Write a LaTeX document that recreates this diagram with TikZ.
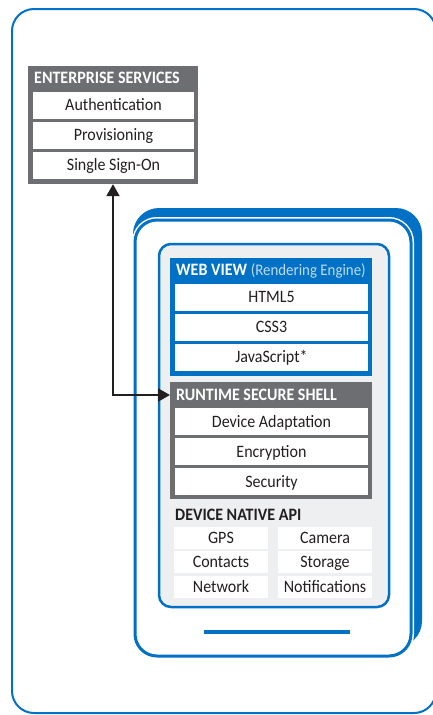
\documentclass[tikz,border=0pt]{standalone}
\usepackage{fontspec}
\setmainfont{Carlito}[FakeStretch=0.92]
\usetikzlibrary{arrows.meta}
\definecolor{intelblue}{RGB}{0,113,197}
\definecolor{shellgray}{RGB}{109,110,113}
\definecolor{screengray}{RGB}{238,239,241}
\definecolor{inkdark}{RGB}{35,31,32}
\definecolor{paleblue}{RGB}{192,219,242}

\begin{document}
\begin{tikzpicture}[x=1pt,y=-1pt,
    font=\fontsize{17.4}{20}\selectfont,
    txt/.style={inner sep=0pt, text height=11.2pt, text depth=0pt},
    item/.style={txt, fill=white, text=inkdark, minimum width=193pt, minimum height=27pt},
    cell/.style={txt, fill=white, text=inkdark, minimum width=94pt, minimum height=22pt},
    panel/.style={inner sep=0pt, minimum width=202pt, minimum height=118pt},
    head/.style={txt, anchor=west, inner xsep=6pt, text=white, font=\fontsize{17.4}{20}\selectfont\bfseries},
    link/.style={{Triangle[length=12pt,width=13pt]}-{Triangle[length=12pt,width=13pt]}, line width=2pt, draw=inkdark}]
  \useasboundingbox (0,0) rectangle (433,715);
  % outer frame
  \draw[intelblue, line width=2pt, rounded corners=22pt] (12,9) rectangle (436,713);

  % enterprise services
  \node[panel, fill=shellgray, minimum width=170pt] (es) at (113,125) {};
  \node[head] (eshead) at (28,78) {ENTERPRISE SERVICES};
  \node[item, minimum width=161pt] (auth) at (113.5,105) {Authentication};
  \node[item, minimum width=161pt] (prov) at (113.5,135) {Provisioning};
  \node[item, minimum width=161pt] (sso) at (113.5,165) {Single Sign-On};

  % device
  \fill[intelblue, rounded corners=26pt] (133,208) rectangle (422,647);
  \draw[white, line width=6pt, fill=white, rounded corners=22pt] (135,220) rectangle (411,656);
  \draw[intelblue, line width=3pt, rounded corners=22pt] (135,220) rectangle (411,656);
  \draw[intelblue, line width=2.5pt, fill=screengray, rounded corners=12pt] (159,244) rectangle (389,607);
  \draw[intelblue, line width=4.5pt] (204,632) -- (350,632);

  % web view
  \node[panel, fill=intelblue] (web) at (271,317) {};
  \node[head] (webhead) at (170,270) {WEB VIEW \mdseries\fontsize{16.2}{20}\selectfont\textcolor{paleblue}{(Rendering Engine)}};
  \node[item] (html) at (271.5,297) {HTML5};
  \node[item] (css) at (271.5,327) {CSS3};
  \node[item] (js) at (271.5,357) {JavaScript*};

  % runtime secure shell
  \node[panel, fill=shellgray, minimum height=117pt] (rss) at (271,440.5) {};
  \node[head] (rsshead) at (170,395) {RUNTIME SECURE SHELL};
  \node[item] (adapt) at (271.5,421.5) {Device Adaptation};
  \node[item] (crypt) at (271.5,451.5) {Encryption};
  \node[item] (sec) at (271.5,481.5) {Security};

  % device native api
  \node[head, text=inkdark, inner xsep=0pt] (api) at (175,515) {DEVICE NATIVE API};
  \node[cell] (gps) at (221,537.5) {GPS};
  \node[cell] (cam) at (325,537.5) {Camera};
  \node[cell] (cont) at (221,562) {Contacts};
  \node[cell] (stor) at (325,562) {Storage};
  \node[cell] (net) at (221,587) {Network};
  \node[cell] (notif) at (325,587) {Notifications};

  \draw[link] (es.south) |- (rsshead.west);
\end{tikzpicture}
\end{document}
